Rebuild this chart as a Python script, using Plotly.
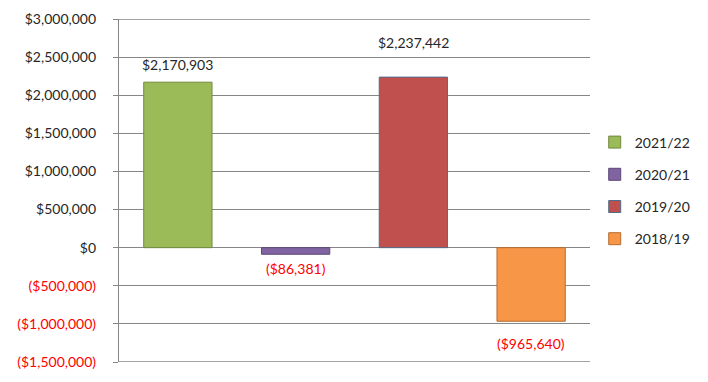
import plotly.graph_objects as go

series = ["2021/22", "2020/21", "2019/20", "2018/19"]
values = [2170903, -86381, 2237442, -965640]
label_texts = ["$2,170,903", "($86,381)", "$2,237,442", "($965,640)"]
label_shift = [18, -14, 35, -22]
fills = ["#9BBB59", "#8064A2", "#C0504D", "#F79646"]
borders = ["#71893F", "#5C4776", "#4F6D8A", "#B66D31"]

tick_vals = [3000000, 2500000, 2000000, 1500000, 1000000, 500000, 0, -500000, -1000000, -1500000]
tick_text = ["$3,000,000", "$2,500,000", "$2,000,000", "$1,500,000", "$1,000,000", "$500,000", "$0",
             "<span style='color:#FF0000'>($500,000)</span>",
             "<span style='color:#FF0000'>($1,000,000)</span>",
             "<span style='color:#FF0000'>($1,500,000)</span>"]

grid_color = "#868686"

fig = go.Figure()
for i, (s, v) in enumerate(zip(series, values)):
    fig.add_trace(go.Bar(
        x=[i], y=[v], name=s, legendgroup=s,
        marker=dict(color=fills[i], line=dict(color=borders[i], width=1)),
        width=0.58,
    ))

for i, (v, t) in enumerate(zip(values, label_texts)):
    fig.add_annotation(x=i, y=v, text=t, showarrow=False, yshift=label_shift[i],
                       font=dict(size=14, color="#FF0000" if v < 0 else "#262626"))

# edge gridlines (top and bottom ticks) drawn explicitly so they are not dropped at the range limits
for tv in (tick_vals[0], tick_vals[-1]):
    fig.add_hline(y=tv, line=dict(color=grid_color, width=1.3), layer="below")

fig.update_layout(
    width=708, height=382,
    margin=dict(l=119, r=118, t=19, b=20, autoexpand=False),
    paper_bgcolor="white", plot_bgcolor="white",
    barmode="overlay",
    font=dict(family="Lato, Open Sans, sans-serif", size=14, color="#262626"),
    showlegend=True,
    legend=dict(x=1.01, y=0.5, xanchor="left", yanchor="middle",
                tracegroupgap=11, font=dict(size=14, color="#262626"),
                itemwidth=30, bgcolor="rgba(0,0,0,0)"),
    xaxis=dict(range=[-0.5, 3.5], showticklabels=False, showgrid=False, zeroline=False,
               showline=False, ticks="", automargin=False),
    yaxis=dict(range=[-1500000, 3000000], tickvals=tick_vals, ticktext=tick_text,
               showgrid=True, gridcolor=grid_color, gridwidth=1.3, zeroline=False,
               showline=True, linecolor=grid_color, linewidth=1.3,
               ticks="outside", ticklen=5, tickcolor=grid_color,
               ticklabelstandoff=14, automargin=False),
)

fig.write_html("out.html", config={"displayModeBar": False},
               post_script="document.body.style.margin='0';document.body.style.overflow='hidden';")
